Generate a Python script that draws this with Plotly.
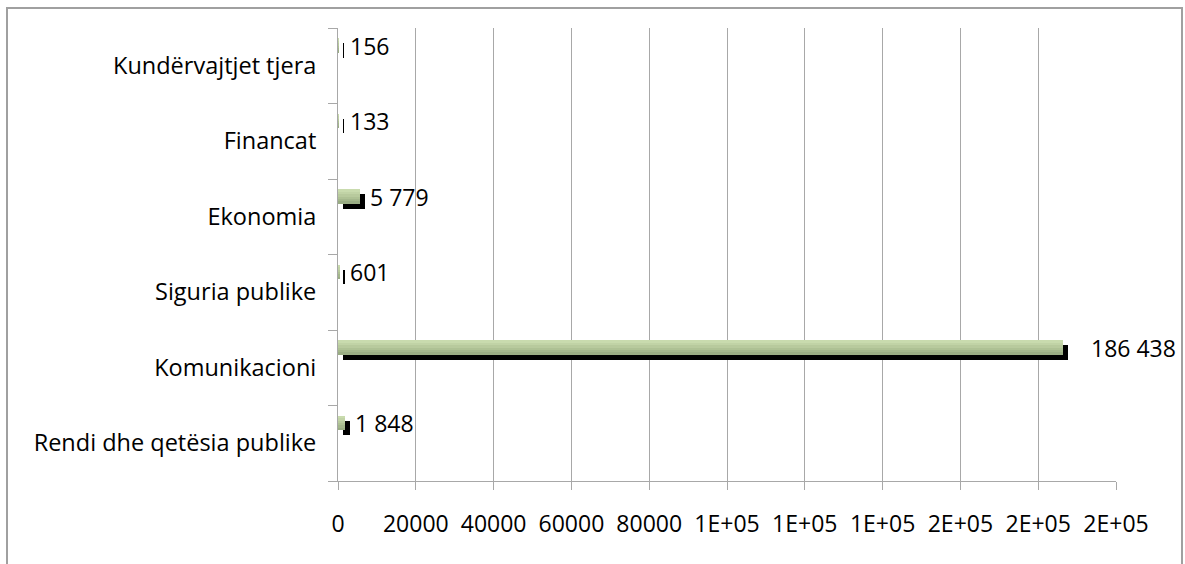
import plotly.graph_objects as go

# ---- data ----
categories = ["Rendi dhe qetësia publike", "Komunikacioni", "Siguria publike",
              "Ekonomia", "Financat", "Kundërvajtjet tjera"]
values = [1848, 186438, 601, 5779, 133, 156]
tick_vals = [0, 20000, 40000, 60000, 80000, 100000, 120000, 140000, 160000, 180000, 200000]
tick_text = ["0", "20000", "40000", "60000", "80000", "1E+05", "1E+05", "1E+05",
             "2E+05", "2E+05", "2E+05"]
label_pad = [3, 21, 3, 3, 4, 4]  # px gap between bar end and label

# ---- style ----
FONT = "Open Sans"
W, H = 1185, 564
L, R, T, B = 338, 69, 28, 83
plot_w = W - L - R
x_max = 200000
shadow_shift = 5 * x_max / plot_w   # 5 px to the right
grid_col = "#a8a8a8"

fig = go.Figure()

# shadow
fig.add_trace(go.Bar(
    y=categories, x=values, base=shadow_shift, orientation="h",
    offset=0.105, width=0.19, marker=dict(color="black", line=dict(width=0)),
    hoverinfo="skip", showlegend=False))

# green bar with vertical gradient (slices)
grad = ["#9aad84", "#a4b78c", "#aec194", "#b8ca9d", "#c1d3a6", "#c9dbae"]
n = len(grad)
g_off, g_w = 0.175, 0.185
for i, c in enumerate(grad):
    fig.add_trace(go.Bar(
        y=categories, x=values, orientation="h",
        offset=g_off + g_w * i / n, width=g_w / n + 0.002,
        marker=dict(color=c, line=dict(width=0)),
        showlegend=False))

# labels
for cat, v, pad in zip(categories, values, label_pad):
    fig.add_annotation(
        x=v + shadow_shift, y=cat, xref="x", yref="y",
        text=f"{v:,}".replace(",", " "), showarrow=False,
        xanchor="left", yanchor="middle", xshift=pad, yshift=20,
        font=dict(family=FONT, size=23, color="black"))

# outer border
px = lambda p: (p - L) / plot_w
py = lambda p: (H - B - p) / (H - T - B)
fig.add_shape(type="rect", xref="paper", yref="paper",
              x0=px(7), x1=px(1182), y0=py(600), y1=py(8),
              line=dict(color="#a0a0a0", width=2), fillcolor="rgba(0,0,0,0)",
              layer="above")

fig.update_layout(
    width=W, height=H, margin=dict(l=L, r=R, t=T, b=B),
    paper_bgcolor="white", plot_bgcolor="white",
    barmode="overlay", bargap=0,
    font=dict(family=FONT, size=23, color="black"),
    xaxis=dict(range=[0, x_max], tickvals=tick_vals, ticktext=tick_text,
               showgrid=True, gridcolor=grid_col, gridwidth=1,
               showline=True, linecolor=grid_col, linewidth=1,
               ticks="outside", ticklen=8, tickcolor=grid_col,
               ticklabelstandoff=14, zeroline=False,
               tickfont=dict(family=FONT, size=23, color="black")),
    yaxis=dict(type="category", categoryorder="array", categoryarray=categories,
               range=[-0.5, len(categories) - 0.5],
               showgrid=False, showline=True, linecolor=grid_col, linewidth=1,
               ticks="outside", ticklen=9, tickcolor=grid_col, tickson="boundaries",
               ticklabelstandoff=16,
               tickfont=dict(family=FONT, size=23.5, color="black")),
)

fig.write_html("out.html", config={"displayModeBar": False},
               post_script="document.body.style.margin='0';document.body.style.overflow='hidden';")
